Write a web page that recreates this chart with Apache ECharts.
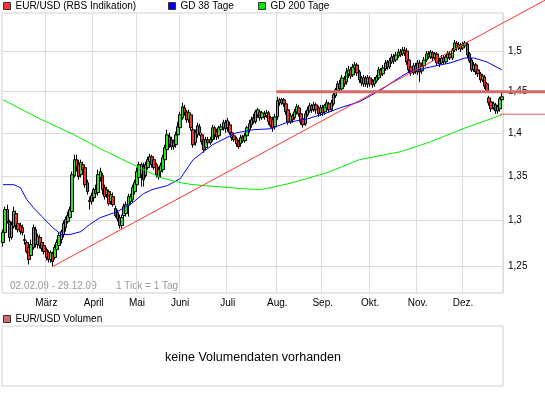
<!DOCTYPE html>
<html><head><meta charset="utf-8">
<script src="https://cdn.jsdelivr.net/npm/echarts@6/dist/echarts.min.js"></script>
<style>html,body{margin:0;padding:0;background:#fff}#c{width:545px;height:395px}</style>
</head><body><div id="c"></div>
<script>
// ---------- data ----------
const firstDay = '2009-02-02';
const lastDay = '2009-12-29';
const holidays = ['2009-04-10','2009-04-13','2009-05-01','2009-12-24','2009-12-25'];
const monthNames = ['Jan','Feb','März','April','Mai','Juni','Juli','Aug.','Sep.','Okt.','Nov.','Dez.'];
const yTicks = [1.25, 1.3, 1.35, 1.4, 1.45, 1.5];
const yMin = 1.2224, yMax = 1.55;

// [open, close, low, high]
const eurusd = [
[1.2759,1.2867,1.2715,1.2899],[1.2867,1.3120,1.2845,1.3153],[1.3120,1.2987,1.2965,1.3175],[1.2987,1.2813,1.2769,1.3009],
[1.2813,1.2954,1.2791,1.2987],[1.2932,1.3098,1.2910,1.3153],[1.3075,1.2943,1.2899,1.3109],[1.2965,1.2899,1.2867,1.3009],
[1.2943,1.2877,1.2845,1.2976],[1.2921,1.2867,1.2834,1.2954],[1.2791,1.2780,1.2737,1.2845],[1.2759,1.2662,1.2641,1.2780],
[1.2705,1.2576,1.2523,1.2737],[1.2619,1.2737,1.2598,1.2791],[1.2705,1.2921,1.2683,1.2954],[1.2899,1.2737,1.2705,1.2932],
[1.2737,1.2823,1.2694,1.2856],[1.2813,1.2726,1.2694,1.2845],[1.2759,1.2694,1.2662,1.2780],[1.2726,1.2662,1.2630,1.2759],
[1.2683,1.2598,1.2565,1.2705],[1.2651,1.2576,1.2544,1.2672],[1.2576,1.2651,1.2544,1.2672],[1.2641,1.2555,1.2502,1.2662],
[1.2598,1.2705,1.2576,1.2737],[1.2683,1.2759,1.2662,1.2791],[1.2726,1.2834,1.2705,1.2867],[1.2791,1.2877,1.2748,1.2899],
[1.2845,1.2965,1.2813,1.2998],[1.2921,1.3009,1.2877,1.3042],[1.2987,1.3053,1.2965,1.3098],[1.3031,1.3120,1.2998,1.3153],
[1.3098,1.3514,1.3075,1.3549],[1.3503,1.3687,1.3480,1.3745],[1.3687,1.3606,1.3549,1.3745],[1.3629,1.3491,1.3457,1.3687],
[1.3514,1.3652,1.3480,1.3687],[1.3629,1.3572,1.3537,1.3664],[1.3595,1.3400,1.3366,1.3629],[1.3423,1.3321,1.3287,1.3457],
[1.3220,1.3209,1.3120,1.3265],[1.3209,1.3276,1.3175,1.3310],
[1.3253,1.3344,1.3209,1.3366],[1.3344,1.3298,1.3253,1.3400],[1.3310,1.3514,1.3276,1.3572],[1.3480,1.3549,1.3434,1.3595],
[1.3503,1.3344,1.3287,1.3537],[1.3366,1.3265,1.3231,1.3400],[1.3287,1.3344,1.3253,1.3378],[1.3321,1.3186,1.3164,1.3344],
[1.3209,1.3287,1.3175,1.3321],[1.3265,1.3175,1.3153,1.3310],[1.3131,1.3053,1.3031,1.3164],[1.3086,1.3020,1.2987,1.3120],
[1.3031,1.2943,1.2910,1.3064],[1.2943,1.3031,1.2910,1.3064],[1.3053,1.3153,1.3020,1.3186],[1.3075,1.3175,1.3042,1.3209],
[1.3164,1.3265,1.3042,1.3298],[1.3209,1.3265,1.3175,1.3298],[1.3231,1.3366,1.3197,1.3400],[1.3321,1.3423,1.3287,1.3457],
[1.3400,1.3549,1.3366,1.3595],[1.3480,1.3629,1.3423,1.3664],[1.3514,1.3629,1.3378,1.3652],[1.3606,1.3457,1.3378,1.3652],
[1.3503,1.3629,1.3480,1.3664],[1.3595,1.3687,1.3572,1.3722],[1.3664,1.3722,1.3629,1.3757],[1.3722,1.3629,1.3595,1.3745],
[1.3687,1.3595,1.3572,1.3722],[1.3629,1.3514,1.3480,1.3652],[1.3491,1.3572,1.3457,1.3606],[1.3549,1.3618,1.3480,1.3652],
[1.3572,1.3710,1.3537,1.3745],[1.3687,1.3827,1.3652,1.3862],[1.3803,1.3979,1.3768,1.4039],[1.3955,1.3862,1.3827,1.4003],
[1.3920,1.3838,1.3803,1.3955],[1.3897,1.3838,1.3803,1.3920],[1.3862,1.3979,1.3827,1.4015],[1.3979,1.4074,1.3944,1.4134],
[1.4063,1.4218,1.4027,1.4254],[1.4182,1.4315,1.4158,1.4363],[1.4302,1.4242,1.4206,1.4339],[1.4254,1.4158,1.4122,1.4278],
[1.4158,1.4242,1.4122,1.4278],[1.4218,1.4063,1.4027,1.4242],[1.4039,1.3862,1.3827,1.4074],[1.3885,1.4003,1.3850,1.4039],
[1.3979,1.4086,1.3944,1.4122],[1.4074,1.4003,1.3967,1.4110],[1.3979,1.3897,1.3862,1.4003],[1.3920,1.3803,1.3768,1.3944],
[1.3827,1.3920,1.3803,1.3955],[1.3920,1.3885,1.3850,1.3955],[1.3885,1.3920,1.3862,1.3955],[1.3920,1.4063,1.3897,1.4098],
[1.4063,1.3979,1.3920,1.4086],[1.4015,1.3955,1.3920,1.4051],[1.3967,1.4063,1.3932,1.4086],[1.4039,1.4074,1.4003,1.4110],
[1.4063,1.4122,1.4027,1.4158],[1.4122,1.4051,1.4003,1.4158],
[1.4063,1.4146,1.4015,1.4182],[1.4098,1.4003,1.3979,1.4134],[1.4003,1.3944,1.3908,1.4039],[1.3967,1.3920,1.3897,1.4003],
[1.3932,1.3874,1.3838,1.3955],[1.3897,1.3838,1.3815,1.3920],[1.3874,1.3944,1.3838,1.3979],[1.3955,1.3908,1.3885,1.3979],
[1.3908,1.3967,1.3885,1.4003],[1.3967,1.4063,1.3944,1.4086],[1.4039,1.4110,1.4003,1.4158],[1.4098,1.4158,1.4063,1.4194],
[1.4182,1.4134,1.4110,1.4230],[1.4134,1.4254,1.4110,1.4278],[1.4218,1.4278,1.4182,1.4302],[1.4254,1.4182,1.4146,1.4278],
[1.4182,1.4242,1.4158,1.4266],[1.4230,1.4194,1.4158,1.4266],[1.4206,1.4242,1.4182,1.4278],[1.4242,1.4134,1.4098,1.4266],
[1.4182,1.4086,1.4063,1.4206],[1.4158,1.4063,1.4015,1.4194],[1.4074,1.4194,1.4039,1.4230],
[1.4194,1.4388,1.4158,1.4437],[1.4400,1.4363,1.4327,1.4424],[1.4363,1.4400,1.4339,1.4424],[1.4400,1.4351,1.4315,1.4424],
[1.4351,1.4254,1.4218,1.4376],[1.4278,1.4134,1.4098,1.4302],[1.4134,1.4206,1.4110,1.4242],[1.4206,1.4158,1.4122,1.4230],
[1.4182,1.4254,1.4158,1.4290],[1.4254,1.4315,1.4218,1.4351],[1.4302,1.4230,1.4194,1.4339],[1.4230,1.4134,1.4098,1.4254],
[1.4170,1.4098,1.4063,1.4206],[1.4110,1.4230,1.4086,1.4266],[1.4218,1.4278,1.4194,1.4315],[1.4266,1.4327,1.4242,1.4363],
[1.4327,1.4278,1.4242,1.4351],[1.4278,1.4339,1.4254,1.4376],[1.4339,1.4278,1.4230,1.4363],[1.4302,1.4230,1.4194,1.4327],
[1.4242,1.4302,1.4206,1.4339],
[1.4302,1.4242,1.4206,1.4339],[1.4254,1.4327,1.4218,1.4351],[1.4302,1.4363,1.4266,1.4400],[1.4351,1.4278,1.4242,1.4376],
[1.4278,1.4363,1.4254,1.4400],[1.4351,1.4461,1.4327,1.4498],[1.4449,1.4522,1.4424,1.4547],[1.4510,1.4596,1.4485,1.4633],
[1.4596,1.4534,1.4498,1.4645],[1.4534,1.4670,1.4510,1.4707],[1.4657,1.4596,1.4559,1.4695],[1.4620,1.4745,1.4584,1.4795],
[1.4720,1.4770,1.4670,1.4820],[1.4770,1.4695,1.4657,1.4807],[1.4707,1.4807,1.4682,1.4845],[1.4795,1.4832,1.4757,1.4870],
[1.4832,1.4732,1.4695,1.4857],[1.4745,1.4645,1.4608,1.4770],[1.4670,1.4608,1.4572,1.4695],[1.4596,1.4670,1.4559,1.4707],
[1.4670,1.4596,1.4559,1.4695],[1.4596,1.4670,1.4547,1.4707],
[1.4670,1.4596,1.4559,1.4695],[1.4620,1.4584,1.4547,1.4657],[1.4596,1.4645,1.4559,1.4682],[1.4633,1.4682,1.4608,1.4707],
[1.4670,1.4770,1.4645,1.4807],[1.4770,1.4707,1.4670,1.4795],[1.4720,1.4795,1.4695,1.4832],[1.4782,1.4857,1.4757,1.4895],
[1.4870,1.4807,1.4770,1.4895],[1.4807,1.4882,1.4782,1.4920],[1.4870,1.4933,1.4845,1.4971],[1.4933,1.4882,1.4845,1.4971],
[1.4895,1.4958,1.4870,1.4996],[1.4945,1.4996,1.4920,1.5035],[1.4996,1.4958,1.4933,1.5035],[1.4971,1.5022,1.4945,1.5060],
[1.5022,1.4984,1.4945,1.5060],[1.5009,1.4870,1.4832,1.5047],[1.4895,1.4770,1.4732,1.4933],[1.4807,1.4732,1.4695,1.4845],
[1.4732,1.4820,1.4707,1.4857],[1.4820,1.4757,1.4720,1.4857],
[1.4745,1.4857,1.4707,1.4895],[1.4857,1.4745,1.4620,1.4895],[1.4757,1.4820,1.4720,1.4857],[1.4820,1.4895,1.4795,1.4933],
[1.4895,1.4971,1.4870,1.5009],[1.4971,1.4933,1.4907,1.5009],[1.4933,1.4996,1.4907,1.5022],[1.4984,1.4920,1.4882,1.5009],
[1.4920,1.4971,1.4895,1.4996],[1.4971,1.4857,1.4820,1.4996],[1.4882,1.4845,1.4807,1.4920],[1.4857,1.4920,1.4832,1.4958],
[1.4920,1.4870,1.4845,1.4958],[1.4870,1.4933,1.4845,1.4958],[1.4920,1.4971,1.4895,1.5009],[1.4971,1.4920,1.4895,1.5009],
[1.4920,1.5022,1.4895,1.5047],[1.5022,1.5111,1.4996,1.5149],[1.5111,1.5047,1.5009,1.5136],[1.5047,1.5086,1.5022,1.5124],
[1.5086,1.5035,1.4996,1.5111],
[1.5047,1.5086,1.5022,1.5124],[1.5073,1.5111,1.5047,1.5136],[1.5098,1.4958,1.4920,1.5124],[1.4971,1.4882,1.4857,1.4996],
[1.4895,1.4770,1.4745,1.4920],[1.4770,1.4832,1.4745,1.4870],[1.4832,1.4745,1.4707,1.4857],[1.4770,1.4720,1.4682,1.4795],
[1.4720,1.4645,1.4608,1.4745],[1.4645,1.4695,1.4620,1.4720],[1.4682,1.4572,1.4534,1.4707],[1.4596,1.4510,1.4485,1.4620],
[1.4424,1.4363,1.4327,1.4449],[1.4376,1.4290,1.4254,1.4400],[1.4302,1.4351,1.4278,1.4376],[1.4339,1.4266,1.4230,1.4363],
[1.4266,1.4315,1.4230,1.4339],[1.4290,1.4412,1.4254,1.4437],[1.4400,1.4437,1.4376,1.4485]
];

// moving averages: [trading-day index, value]
const gd38 = [[0,1.3400],[5,1.3400],[8,1.3366],[11,1.3231],[14,1.3142],[18,1.3042],[23,1.2921],[27,1.2845],
[31,1.2845],[36,1.2877],[40,1.2954],[45,1.3031],[53,1.3098],[60,1.3197],[65,1.3298],[69,1.3344],[76,1.3389],
[82,1.3468],[88,1.3687],[97,1.3862],[108,1.4003],[116,1.4039],[124,1.4051],[131,1.4122],[141,1.4170],[150,1.4242],
[156,1.4302],[165,1.4376],[175,1.4522],[184,1.4682],[188,1.4745],[198,1.4807],[207,1.4857],[214,1.4920],[218,1.4920],
[224,1.4870],[231,1.4770]];
const gd200 = [[0,1.4400],[17,1.4170],[32,1.3991],[46,1.3803],[65,1.3572],[73,1.3480],[82,1.3423],[88,1.3400],
[111,1.3355],[119,1.3344],[124,1.3366],[134,1.3423],[150,1.3537],[165,1.3687],[184,1.3780],[198,1.3897],
[213,1.4051],[231,1.4218]];

// trend lines: [trading-day index, value]
const supportLine = [[23,1.2502],[251,1.567]];
const resistanceLine = [[126.5,1.45],[251,1.45]];
const lowLine = [[230,1.4225],[251,1.4225]];

// ---------- categories (trading days) ----------
function pad(n){return n<10?'0'+n:''+n;}
const days = [];
{
  const p = s => s.split('-').map(Number);
  const a = p(firstDay), b = p(lastDay);
  for (let t = Date.UTC(a[0],a[1]-1,a[2]); t <= Date.UTC(b[0],b[1]-1,b[2]); t += 86400000) {
    const d = new Date(t), wd = d.getUTCDay();
    if (wd === 0 || wd === 6) continue;
    const s = d.getUTCFullYear()+'-'+pad(d.getUTCMonth()+1)+'-'+pad(d.getUTCDate());
    if (holidays.indexOf(s) >= 0) continue;
    days.push(s);
  }
}
const monthStart = {};
days.forEach((s,i)=>{ if (i>0 && s.slice(5,7)!==days[i-1].slice(5,7)) monthStart[i]=true; });
if (days.length !== eurusd.length) console.error('length mismatch', days.length, eurusd.length);

// ---------- layout ----------
const W = 545, H = 395;
const pL = 2, pR = 503, pT = 13, pB = 293;
const N = days.length;
const lnR = (Math.log(yMax) - Math.log(yMin)) / (pB - pT);
const yMaxB = Math.exp(Math.log(yMax) + pT * lnR);
const xMaxB = -0.5 + N * (W - pL) / (pR - pL);
const FONT = '"Liberation Sans", Arial, sans-serif';

const chart = echarts.init(document.getElementById('c'), null, {renderer:'canvas'});
const legendBase = {
  orient:'horizontal', itemWidth:7, itemHeight:7, padding:0, selectedMode:false,
  textStyle:{fontSize:10, color:'#000', fontFamily:FONT}
};
chart.setOption({
  animation:false,
  textStyle:{fontFamily:FONT},
  legend:[
    Object.assign({left:3, top:1, data:[{name:'EUR/USD (RBS Indikation)', icon:'rect', itemStyle:{color:'#ff3333', borderColor:'#333', borderWidth:1}}]}, legendBase),
    Object.assign({left:168, top:1, data:[{name:'GD 38 Tage', icon:'rect', itemStyle:{color:'#0000ee', borderColor:'#333', borderWidth:1}}]}, legendBase),
    Object.assign({left:258, top:1, data:[{name:'GD 200 Tage', icon:'rect', itemStyle:{color:'#00ee00', borderColor:'#333', borderWidth:1}}]}, legendBase),
    Object.assign({left:3, top:314, data:[{name:'EUR/USD Volumen', icon:'rect', itemStyle:{color:'#d46a6a', borderColor:'#333', borderWidth:1}}]}, legendBase)
  ],
  grid:[
    {left:pL, top:pT, width:pR-pL, height:pB-pT, show:true, borderColor:'#d0d0d0', borderWidth:1, backgroundColor:'transparent'},
    {left:pL, top:0, width:W-pL, height:pB, show:false},
    {left:pL, top:326, width:pR-pL, height:60, show:true, borderColor:'#d0d0d0', borderWidth:1, backgroundColor:'transparent'}
  ],
  xAxis:[
    {type:'category', gridIndex:0, data:days, boundaryGap:true,
     axisLine:{show:false}, axisTick:{show:false},
     axisLabel:{interval:(i)=>!!monthStart[i], formatter:(v)=>monthNames[+v.slice(5,7)-1], color:'#000', fontSize:10, margin:5},
     splitLine:{show:true, interval:(i)=>!!monthStart[i], lineStyle:{color:'#dcdcdc', width:1}}},
    {type:'value', gridIndex:1, min:-0.5, max:xMaxB, show:false},
    {type:'value', gridIndex:2, min:0, max:1, show:false}
  ],
  yAxis:[
    {type:'log', gridIndex:0, position:'right', min:yMin, max:yMax,
     axisLine:{show:false}, axisTick:{show:false, customValues:yTicks},
     axisLabel:{customValues:yTicks, formatter:(v)=>String(+(+v).toFixed(2)).replace('.',','), color:'#000', fontSize:10, margin:5},
     splitLine:{show:true, lineStyle:{color:'#dcdcdc', width:1}}},
    {type:'log', gridIndex:1, min:yMin, max:yMaxB, show:false},
    {type:'value', gridIndex:2, min:0, max:1, show:false}
  ],
  series:[
    {name:'EUR/USD (RBS Indikation)', type:'candlestick', xAxisIndex:0, yAxisIndex:0, data:eurusd, barWidth:3, z:3,
     itemStyle:{color:'#33dd33', color0:'#ee3333', borderColor:'#000', borderColor0:'#000', borderColorDoji:'#000', borderWidth:1}},
    {name:'GD 38 Tage', type:'line', xAxisIndex:0, yAxisIndex:0, data:gd38, symbol:'none', z:4, silent:true,
     lineStyle:{color:'#0000ff', width:1}, itemStyle:{color:'#0000ff'}},
    {name:'GD 200 Tage', type:'line', xAxisIndex:0, yAxisIndex:0, data:gd200, symbol:'none', z:4, silent:true,
     lineStyle:{color:'#00ee00', width:1}, itemStyle:{color:'#00ee00'}},
    {name:'Trend', type:'line', xAxisIndex:1, yAxisIndex:1, data:supportLine, symbol:'none', z:5, silent:true,
     lineStyle:{color:'#ff3333', width:1}},
    {name:'Widerstand', type:'line', xAxisIndex:1, yAxisIndex:1, data:resistanceLine, symbol:'none', z:5, silent:true,
     lineStyle:{color:'#d46a6a', width:3}},
    {name:'Unterstuetzung', type:'line', xAxisIndex:1, yAxisIndex:1, data:lowLine, symbol:'none', z:5, silent:true,
     lineStyle:{color:'#e06666', width:1}},
    {name:'EUR/USD Volumen', type:'bar', xAxisIndex:2, yAxisIndex:2, data:[], itemStyle:{color:'#d46a6a'}}
  ],
  graphic:[
    {type:'text', x:10, y:286, silent:true, style:{text:'02.02.09 - 29.12.09', fill:'#999', font:'10px '+FONT, verticalAlign:'middle'}},
    {type:'text', x:116, y:286, silent:true, style:{text:'1 Tick = 1 Tag', fill:'#999', font:'10px '+FONT, verticalAlign:'middle'}},
    {type:'text', x:253, y:358, silent:true, style:{text:'keine Volumendaten vorhanden', fill:'#000', font:'12.5px '+FONT, align:'center', verticalAlign:'middle'}}
  ]
});
</script></body></html>
